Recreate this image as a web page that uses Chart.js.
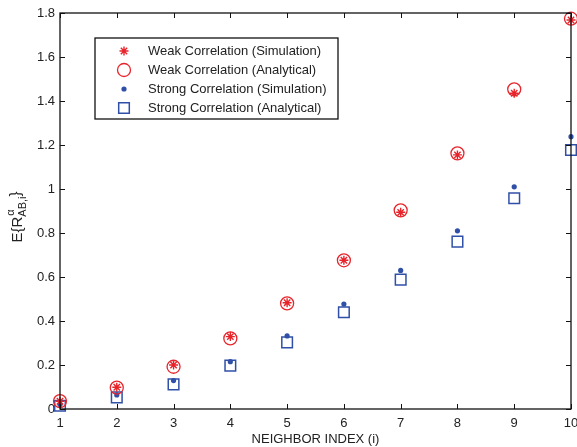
<!DOCTYPE html>
<html>
<head>
<meta charset="utf-8">
<script src="https://cdn.jsdelivr.net/npm/chart.js@4/dist/chart.umd.min.js"></script>
<style>
  html, body { margin: 0; padding: 0; background: #fff; }
  #wrap { width: 577px; height: 447px; position: relative; }
</style>
</head>
<body>
<div id="wrap"><canvas id="chart"></canvas></div>
<script>
const neighborIndex = [1, 2, 3, 4, 5, 6, 7, 8, 9, 10];
const weakSim = [0.035, 0.099, 0.2, 0.329, 0.483, 0.676, 0.894, 1.155, 1.435, 1.768];
const weakAnalytical = [0.036, 0.097, 0.192, 0.321, 0.48, 0.676, 0.903, 1.162, 1.453, 1.774];
const strongSim = [0.021, 0.064, 0.129, 0.215, 0.332, 0.477, 0.63, 0.81, 1.01, 1.238];
const strongAnalytical = [0.015, 0.053, 0.112, 0.197, 0.303, 0.44, 0.588, 0.761, 0.958, 1.177];
const yTicks = [0, 0.2, 0.4, 0.6, 0.8, 1, 1.2, 1.4, 1.6, 1.8];

const RED = "#e8242b";
const BLUE = "#3050a8";
const FONT = "'Liberation Sans', Arial, Helvetica, sans-serif";

const toPoints = (vals) => vals.map((v, i) => ({ x: neighborIndex[i], y: v }));

// frame, inward ticks, legend and axis titles, all placed from the chart scales
const decorations = {
  id: "decorations",
  afterDraw(chart) {
    const { ctx, chartArea: a, scales } = chart;
    const xs = scales.x, ys = scales.y;
    ctx.save();
    ctx.strokeStyle = "#111";
    ctx.lineWidth = 1.3;
    ctx.strokeRect(a.left, a.top, a.right - a.left, a.bottom - a.top);

    ctx.lineWidth = 1;
    ctx.beginPath();
    neighborIndex.forEach((v) => {
      const px = Math.round(xs.getPixelForValue(v)) + 0.5;
      ctx.moveTo(px, a.bottom); ctx.lineTo(px, a.bottom - 5);
      ctx.moveTo(px, a.top); ctx.lineTo(px, a.top + 5);
    });
    yTicks.forEach((v) => {
      const py = Math.round(ys.getPixelForValue(v)) + 0.5;
      ctx.moveTo(a.left, py); ctx.lineTo(a.left + 5, py);
      ctx.moveTo(a.right, py); ctx.lineTo(a.right - 5, py);
    });
    ctx.stroke();

    // legend
    const lx = 95, ly = 38, lw = 243, lh = 81;
    ctx.fillStyle = "#fff";
    ctx.fillRect(lx, ly, lw, lh);
    ctx.lineWidth = 1.3;
    ctx.strokeStyle = "#111";
    ctx.strokeRect(lx, ly, lw, lh);
    ctx.font = "13px " + FONT;
    ctx.textBaseline = "middle";
    ctx.textAlign = "left";
    chart.data.datasets.forEach((ds, i) => {
      const cy = ly + 13 + i * 19;
      ctx.save();
      ctx.strokeStyle = ds.borderColor;
      ctx.fillStyle = ds.backgroundColor;
      ctx.lineWidth = ds.borderWidth;
      Chart.helpers.drawPoint(ctx, { pointStyle: ds.pointStyle, radius: ds.pointRadius, borderWidth: ds.borderWidth, rotation: 0 }, 124, cy);
      ctx.restore();
      ctx.fillStyle = "#222";
      ctx.fillText(ds.label, 148, cy);
    });

    // x title
    ctx.textAlign = "center";
    ctx.textBaseline = "alphabetic";
    ctx.fillText("NEIGHBOR INDEX (i)", (a.left + a.right) / 2, 443);

    // y title with super/subscripts
    ctx.translate(22, 217);
    ctx.rotate(-Math.PI / 2);
    ctx.textAlign = "left";
    const partA = "E{R";
    const big = "15px " + FONT, small = "11px " + FONT;
    ctx.font = big;
    const wA = ctx.measureText(partA).width;
    ctx.font = small;
    const wSup = ctx.measureText("\u03b1").width;
    const wSub = ctx.measureText("AB,i").width;
    ctx.font = big;
    const wEnd = ctx.measureText("}").width;
    const total = wA + Math.max(wSup, wSub) + wEnd;
    const x0 = -total / 2;
    ctx.fillText(partA, x0, 0);
    ctx.font = small;
    ctx.fillText("\u03b1", x0 + wA + 1, -8);
    ctx.fillText("AB,i", x0 + wA, 4);
    ctx.font = big;
    ctx.fillText("}", x0 + wA + Math.max(wSup, wSub), -2);
    ctx.restore();
  }
};

new Chart(document.getElementById("chart"), {
  type: "scatter",
  data: {
    datasets: [
      {
        label: "Weak Correlation (Simulation)",
        data: toPoints(weakSim),
        pointStyle: "star",
        pointRadius: 4.5,
        borderWidth: 1.4,
        borderColor: RED,
        backgroundColor: RED,
        clip: false
      },
      {
        label: "Weak Correlation (Analytical)",
        data: toPoints(weakAnalytical),
        pointStyle: "circle",
        pointRadius: 6.5,
        borderWidth: 1.3,
        borderColor: RED,
        backgroundColor: "rgba(0,0,0,0)",
        clip: false
      },
      {
        label: "Strong Correlation (Simulation)",
        data: toPoints(strongSim),
        pointStyle: "circle",
        pointRadius: 2.6,
        borderWidth: 0,
        borderColor: BLUE,
        backgroundColor: BLUE,
        clip: false
      },
      {
        label: "Strong Correlation (Analytical)",
        data: toPoints(strongAnalytical),
        pointStyle: "rect",
        pointRadius: 7.5,
        borderWidth: 1.5,
        borderColor: BLUE,
        backgroundColor: "rgba(0,0,0,0)",
        clip: false
      }
    ]
  },
  options: {
    responsive: true,
    maintainAspectRatio: false,
    animation: false,
    layout: { autoPadding: false, padding: { top: 13, right: 6, left: 0, bottom: 0 } },
    plugins: {
      legend: { display: false },
      tooltip: { enabled: false }
    },
    scales: {
      x: {
        type: "linear",
        min: 1,
        max: 10,
        grid: { display: false, drawTicks: false },
        border: { display: false },
        afterBuildTicks: (axis) => { axis.ticks = neighborIndex.map((v) => ({ value: v })); },
        afterFit: (axis) => { axis.height = 38; axis.paddingLeft = 0; axis.paddingRight = 0; },
        ticks: {
          padding: 7,
          color: "#222",
          font: { family: FONT, size: 13 },
          maxRotation: 0,
          callback: (v) => String(v)
        }
      },
      y: {
        min: 0,
        max: 1.8,
        grid: { display: false, drawTicks: false },
        border: { display: false },
        afterBuildTicks: (axis) => { axis.ticks = yTicks.map((v) => ({ value: v })); },
        afterFit: (axis) => { axis.width = 60; axis.paddingTop = 0; axis.paddingBottom = 0; },
        ticks: {
          padding: 5,
          color: "#222",
          font: { family: FONT, size: 13 },
          callback: (v) => String(Math.round(v * 10) / 10)
        }
      }
    }
  },
  plugins: [decorations]
});
</script>
</body>
</html>
